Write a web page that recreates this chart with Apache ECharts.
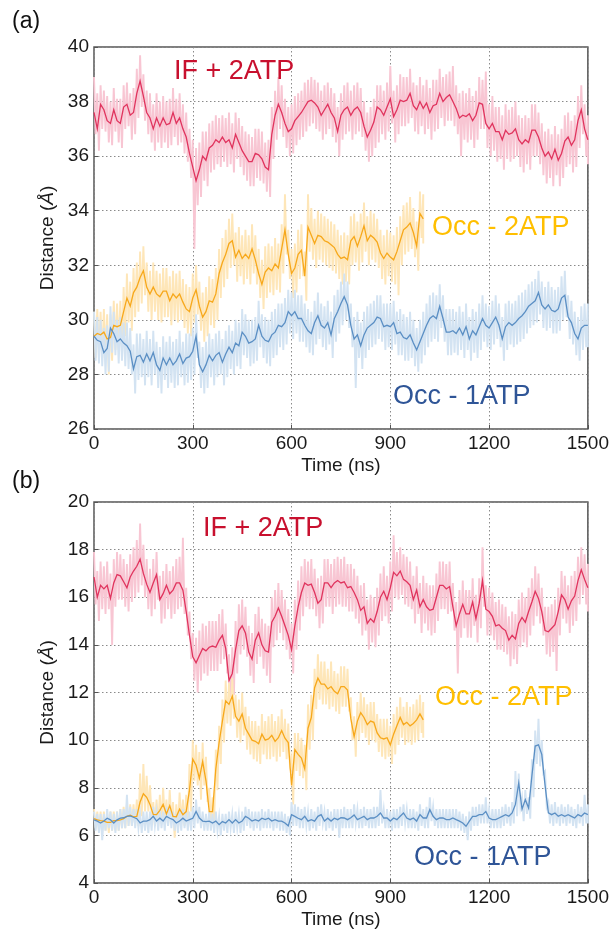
<!DOCTYPE html>
<html><head><meta charset="utf-8">
<script src="https://cdn.jsdelivr.net/npm/echarts@6/dist/echarts.min.js"></script>
<style>html,body{margin:0;padding:0;background:#fff}#c{width:612px;height:934px}</style>
</head><body><div id="c"></div>
<script>
// time step of every array below (ns)
const STEP = 10;
const xTicks = [0, 300, 600, 900, 1200, 1500];

// ---------- panel (a) ----------
const ifA = [37.6,37.0,37.9,37.7,37.3,37.2,37.7,37.3,37.2,37.8,
37.9,37.5,37.6,38.3,38.75,38.2,37.6,37.4,37.0,37.4,
37.1,37.4,37.15,37.2,37.6,37.2,37.4,37.0,36.7,36.1,
35.6,35.1,35.5,36.0,35.85,36.3,36.4,36.6,36.5,36.7,
36.5,36.6,36.3,36.8,36.5,36.2,36.0,35.8,35.8,36.1,
36.05,35.9,35.6,35.5,36.8,37.5,37.9,37.6,37.2,36.9,
37.0,37.3,37.45,37.6,37.8,38.0,38.05,37.95,37.8,37.5,
37.7,37.9,37.6,37.4,36.9,37.5,37.7,37.8,37.5,37.7,
37.8,37.6,37.1,36.7,36.95,37.25,37.8,37.7,37.5,37.8,
38.1,37.45,37.7,38.05,38.0,38.05,38.3,37.85,37.7,38.0,
37.75,37.95,37.6,37.85,37.9,38.3,38.0,38.15,38.25,38.0,
37.75,37.4,37.5,37.45,37.55,37.3,37.5,37.95,37.9,37.2,
37.0,37.2,36.9,36.9,36.6,36.95,36.8,36.85,37.0,36.6,
36.45,36.6,36.5,36.95,36.95,36.7,36.3,36.0,36.15,35.9,
36.25,35.85,36.1,36.55,36.7,36.4,36.6,37.3,37.7,37.0,
36.6];
const ifAHi = [38.9,38.3,38.6,38.4,38.2,38.0,38.5,38.1,38.1,38.6,
38.7,38.3,38.5,39.2,39.7,39.0,38.4,38.3,37.9,38.3,
38.0,38.2,38.0,38.1,38.5,38.1,38.3,37.9,37.6,37.0,
36.6,36.3,36.5,36.9,36.9,37.2,37.3,37.5,37.4,37.5,
37.4,37.6,37.2,37.6,37.4,37.1,36.9,36.8,36.7,37.0,
37.0,36.9,36.5,36.6,37.8,38.4,38.9,38.6,38.1,37.8,
37.9,38.2,38.3,38.4,38.7,38.8,38.9,38.8,38.7,38.4,
38.6,38.7,38.5,38.3,37.8,38.3,38.6,38.7,38.4,38.6,
38.7,38.5,38.0,37.6,37.8,38.1,38.6,38.6,38.4,38.7,
39.3,38.4,38.6,39.0,38.9,38.9,39.2,38.7,38.6,38.9,
38.6,38.8,38.5,38.8,38.8,39.2,38.9,39.0,39.1,39.3,
38.6,38.3,38.4,38.3,38.5,38.2,38.4,38.9,38.8,39.1,
37.9,38.2,37.8,37.8,37.5,37.9,37.7,37.8,38.0,37.5,
37.4,37.5,37.4,37.9,37.9,37.6,37.2,36.9,37.0,36.8,
37.1,36.8,37.0,37.5,37.6,37.3,37.5,38.2,38.6,37.9,
37.5];
const ifALo = [36.8,36.2,37.0,36.9,36.5,36.4,36.9,36.5,36.3,37.0,
37.1,36.6,36.8,37.4,37.8,37.3,36.8,36.5,36.2,36.5,
36.3,36.5,36.3,36.4,36.7,36.4,36.5,36.1,35.8,35.2,
32.6,34.2,34.5,35.1,34.9,35.4,35.5,35.7,35.6,35.8,
35.6,35.7,35.4,35.9,35.6,35.3,35.1,34.9,34.9,35.2,
35.1,35.0,34.7,34.5,35.9,36.6,37.0,36.7,36.3,36.0,
36.1,36.4,36.6,36.7,36.9,37.1,37.2,37.0,36.9,36.6,
36.8,37.0,36.7,36.5,36.0,36.6,36.8,36.9,36.6,36.8,
36.9,36.7,36.2,35.8,36.0,36.3,36.5,36.8,36.6,36.9,
37.2,36.5,36.8,37.1,37.1,37.2,37.4,36.9,36.8,37.1,
36.8,37.0,36.6,36.9,37.0,37.4,37.1,37.3,37.3,37.1,
36.8,36.0,36.6,36.5,36.6,36.3,36.6,37.0,37.0,36.3,
36.0,36.2,35.8,35.9,35.5,35.9,35.8,35.9,36.0,35.6,
35.4,35.7,35.5,36.0,36.0,35.7,35.3,35.0,35.2,34.9,
35.3,34.9,35.2,35.6,35.7,35.4,35.6,36.3,36.8,36.0,
35.7];

const occ2A = [29.4,29.5,29.45,29.55,29.3,29.35,29.8,29.75,29.8,30.3,
30.8,30.5,31.0,31.2,31.55,31.8,31.2,30.95,31.2,30.95,
30.85,31.05,31.05,30.7,30.95,30.8,30.95,30.65,30.4,30.3,
30.8,31.1,30.5,30.1,30.3,30.7,30.65,30.95,31.7,32.1,
32.4,32.8,32.9,32.3,32.55,32.25,32.4,32.25,32.6,32.2,
31.7,31.3,31.75,31.9,31.8,32.05,31.9,32.6,33.3,32.4,
31.7,31.9,32.4,32.55,31.6,33.4,33.1,32.8,33.1,33.05,
32.9,32.85,32.75,32.65,32.4,32.25,32.3,32.2,32.9,33.05,
32.7,33.05,33.45,32.9,33.1,33.0,32.85,32.45,32.25,32.45,
32.3,32.2,32.5,32.9,33.3,33.4,33.55,33.2,32.7,33.9,
33.7];
const occ2AHi = [30.3,30.4,30.3,30.4,30.2,30.2,30.7,30.6,30.7,31.2,
31.7,31.4,31.9,32.1,32.5,32.7,32.1,31.8,32.1,31.8,
31.7,31.9,31.9,31.6,31.8,31.7,31.8,31.5,31.3,31.2,
31.7,32.0,31.4,31.0,31.2,31.6,31.5,31.9,32.6,33.0,
33.3,33.7,33.9,33.2,33.4,33.1,33.3,33.1,33.5,33.1,
32.6,32.2,32.7,32.8,32.7,33.0,32.8,33.5,34.6,33.3,
32.6,32.8,33.3,33.5,32.5,34.6,34.1,33.7,34.0,33.9,
33.8,33.7,33.6,33.5,33.3,33.1,33.2,33.1,33.8,33.9,
33.6,33.9,34.3,33.8,34.0,33.9,33.7,33.3,33.1,33.3,
33.2,33.1,33.4,33.8,34.2,34.3,34.5,34.1,33.6,34.7,
34.6];
const occ2ALo = [28.6,28.7,28.6,28.7,28.0,28.5,28.9,28.9,28.9,29.4,
29.9,29.6,30.1,30.3,30.6,30.9,30.3,30.0,30.3,30.0,
29.9,30.1,30.1,29.8,30.0,29.9,30.0,29.7,29.5,29.4,
29.9,30.2,29.6,29.2,29.4,29.8,29.7,30.0,30.8,31.2,
31.5,31.9,32.0,31.4,31.6,31.3,31.5,31.3,31.7,31.3,
30.8,30.4,30.8,31.0,30.9,31.1,31.0,31.7,32.4,31.5,
30.8,31.0,31.5,31.6,30.7,32.5,32.2,31.9,32.2,32.1,
32.0,31.9,31.8,31.7,31.5,31.3,31.4,31.3,32.0,32.1,
31.8,32.1,32.5,32.0,32.2,32.1,31.9,31.5,31.3,31.6,
31.4,31.3,30.9,32.0,32.4,32.5,32.6,32.3,31.8,33.0,
32.8];

const occ1A = [29.4,29.25,29.2,28.8,28.95,29.7,29.5,29.2,29.3,29.15,
29.05,28.85,28.2,28.65,28.7,28.45,28.75,28.5,28.8,28.35,
28.15,28.6,28.35,28.6,28.35,28.5,28.75,28.4,28.6,28.65,
28.85,29.4,28.35,28.1,28.35,28.7,28.5,28.7,28.8,28.45,
28.75,29.0,28.8,29.15,29.05,29.55,29.4,29.15,29.2,29.3,
29.8,29.4,29.25,29.2,29.45,29.55,29.8,29.75,29.9,30.3,
30.15,30.3,30.05,30.05,29.8,29.6,29.5,29.9,30.15,29.8,
29.7,29.9,29.45,30.05,30.3,30.6,30.85,30.55,29.8,29.3,
29.45,29.05,29.45,29.7,29.8,29.9,30.1,30.05,29.75,29.8,
29.75,29.9,29.5,29.55,29.35,29.3,29.45,29.15,28.9,29.2,
29.5,29.8,30.05,30.15,30.05,30.5,30.05,29.55,29.55,29.6,
29.5,29.7,29.45,29.75,29.3,29.6,29.45,29.75,30.05,29.8,
29.7,29.9,30.1,29.8,29.3,29.75,29.9,29.8,29.9,30.05,
30.15,30.3,30.5,30.6,30.7,31.0,30.55,30.4,30.55,30.35,
30.3,30.4,30.8,30.9,30.1,29.9,29.5,29.3,29.7,29.8,
29.8];
const occ1AHi = [30.3,30.1,30.0,29.7,29.8,30.5,30.3,30.0,30.1,29.9,
29.9,29.7,29.1,29.5,29.5,29.3,29.6,29.3,29.6,29.2,
29.0,29.4,29.2,29.4,29.2,29.3,29.6,29.2,29.5,29.5,
29.7,30.2,29.2,29.0,29.2,29.5,29.3,29.5,29.6,29.3,
29.6,29.8,29.6,30.0,29.9,30.4,30.2,30.0,30.0,30.1,
30.7,30.2,30.1,30.0,30.3,30.4,30.6,30.6,30.8,31.1,
31.0,31.1,30.9,30.9,30.6,30.4,30.3,30.7,31.0,30.6,
30.5,30.7,30.3,30.9,31.1,31.4,31.7,31.4,30.6,30.1,
30.3,29.9,30.3,30.5,30.6,30.7,30.9,30.9,30.6,30.6,
30.6,30.7,30.3,30.4,30.2,30.1,30.3,30.0,29.7,30.0,
30.3,30.6,30.9,31.0,30.9,31.3,30.9,30.4,30.4,30.4,
30.3,30.5,30.3,30.6,30.1,30.4,30.3,30.6,30.9,30.6,
30.5,30.7,30.9,30.6,30.1,30.6,30.7,30.6,30.7,30.9,
31.0,31.1,31.3,31.4,31.5,31.8,31.4,31.2,31.4,31.2,
31.1,31.2,31.6,31.8,30.9,30.7,30.3,30.1,30.5,30.6,
30.6];
const occ1ALo = [28.5,28.4,28.3,28.0,28.1,28.8,28.7,28.4,28.5,28.3,
28.2,28.0,27.3,27.8,27.9,27.6,27.9,27.6,28.0,27.5,
27.3,27.8,27.5,27.7,27.5,27.6,27.9,27.6,27.7,27.8,
28.0,28.6,27.5,27.3,27.5,27.9,27.6,27.9,28.0,27.6,
27.9,28.2,28.0,28.3,28.2,28.7,28.6,28.3,28.4,28.5,
29.0,28.6,28.4,28.3,28.6,28.7,29.0,28.9,29.1,29.5,
29.3,29.5,29.2,29.2,29.0,28.8,28.7,29.1,29.3,29.0,
28.9,29.1,28.6,29.2,29.5,29.8,30.0,29.7,29.0,27.5,
28.6,28.2,28.6,28.9,29.0,29.1,29.3,29.2,28.9,29.0,
28.9,29.1,28.7,28.7,28.5,28.5,28.6,28.3,28.1,28.4,
28.7,29.0,29.2,29.3,29.2,29.7,29.2,28.7,28.7,28.8,
28.7,28.9,28.6,28.9,28.5,28.8,28.6,28.9,29.2,29.0,
28.9,29.1,29.3,29.0,28.5,28.9,29.1,29.0,29.1,29.2,
29.3,29.5,29.7,29.8,29.9,30.2,29.7,29.6,29.7,29.5,
29.5,29.6,30.0,30.1,29.3,29.1,28.7,28.5,28.9,29.0,
29.0];

// ---------- panel (b) ----------
const ifB = [16.85,16.0,16.5,16.35,16.5,15.95,16.6,16.95,16.9,16.65,
16.4,16.85,17.1,17.3,17.6,17.0,16.55,16.2,16.6,16.95,
15.9,16.15,16.5,16.15,16.3,16.6,16.6,16.3,15.4,14.4,
13.5,13.25,13.55,13.85,13.75,13.9,13.95,13.9,14.2,14.4,
13.85,12.5,12.8,13.8,14.6,14.8,14.5,13.7,13.4,14.2,
14.5,14.0,13.75,13.7,14.95,15.2,15.55,15.2,14.8,14.4,
13.8,14.8,15.6,16.2,16.6,16.5,16.55,16.2,15.75,15.9,
16.6,16.6,16.4,16.6,16.7,16.6,16.65,16.4,16.45,16.2,
15.9,15.45,15.6,14.9,15.1,14.95,15.4,16.0,16.25,15.9,
16.4,17.05,16.9,17.1,16.75,16.65,16.5,15.9,16.3,15.6,
15.9,15.6,15.45,15.5,16.0,16.5,16.5,16.35,16.45,15.6,
14.8,15.3,15.7,15.3,15.3,15.8,15.1,15.75,16.7,15.5,
15.4,15.2,14.8,14.85,14.7,14.6,14.2,14.4,14.25,14.9,
15.15,14.95,15.4,15.8,16.25,15.95,15.4,14.6,14.55,14.7,
14.85,15.4,16.1,15.9,15.5,15.85,16.05,16.7,17.15,16.75,
16.4];
const ifBHi = [17.9,17.1,17.5,17.3,17.5,17.0,17.6,17.9,17.8,17.6,
17.4,17.8,18.1,18.4,19.1,18.2,17.6,17.2,17.6,17.9,
16.9,17.1,17.4,17.1,17.3,17.6,17.7,18.5,16.4,15.4,
14.5,14.3,14.6,14.9,14.8,15.0,15.0,15.0,15.3,15.5,
14.9,13.6,13.9,15.0,15.7,15.9,15.6,14.8,14.5,15.3,
15.6,15.1,14.9,14.8,16.0,16.3,16.6,16.3,15.9,15.5,
14.9,15.9,16.7,17.3,17.6,17.5,17.6,17.2,16.8,16.9,
17.6,17.6,17.4,17.6,17.7,17.6,17.7,17.4,17.4,17.2,
16.9,16.5,16.6,15.9,16.1,16.0,16.4,17.0,17.3,16.9,
17.5,18.6,17.9,18.1,17.8,17.7,17.5,16.9,17.3,16.6,
16.9,16.6,16.5,16.5,17.0,17.5,17.5,17.4,17.5,16.6,
15.8,16.3,16.7,16.3,16.3,16.8,16.1,16.8,18.1,16.5,
16.4,16.2,15.8,15.9,15.7,15.6,15.2,15.4,15.3,15.9,
16.2,16.0,16.4,16.8,17.3,17.0,16.4,15.6,15.6,15.7,
15.9,16.4,17.1,16.9,16.5,16.9,17.1,17.7,18.1,17.8,
17.4];
const ifBLo = [15.7,15.0,15.5,15.3,15.5,14.0,15.6,15.9,15.9,15.6,
15.4,15.8,16.0,16.2,16.5,16.0,15.5,15.2,15.5,15.9,
14.9,15.1,15.5,15.1,15.3,15.5,15.6,15.3,14.4,13.4,
12.5,12.0,12.5,12.8,12.7,12.9,12.9,12.9,13.2,13.4,
12.8,11.8,11.9,12.8,13.6,13.8,13.5,12.7,12.4,13.2,
13.5,13.0,12.7,12.4,13.9,14.2,14.5,14.2,13.8,13.4,
12.8,13.8,14.6,15.2,15.6,15.5,15.5,15.2,14.7,14.9,
15.6,15.6,15.3,15.6,15.7,15.6,15.6,15.4,15.4,15.1,
14.9,14.4,14.6,13.8,14.1,13.9,14.4,15.0,15.2,14.9,
15.4,16.0,15.9,16.1,15.7,15.6,15.5,14.9,15.3,14.5,
14.9,14.6,14.4,14.5,15.0,15.5,15.5,15.3,15.4,14.6,
12.8,14.3,14.7,14.3,14.3,14.8,14.1,14.7,15.6,14.4,
14.4,14.2,13.8,13.8,13.7,13.6,13.1,13.4,13.2,13.9,
14.1,13.9,14.4,14.8,15.2,14.9,14.4,13.6,13.5,13.7,
12.9,14.4,15.1,14.9,14.5,14.8,15.0,15.7,16.1,15.7,
15.4];

const occ2B = [6.7,6.65,6.62,6.6,6.55,6.55,6.62,6.62,6.65,6.7,
6.8,6.85,6.78,6.8,7.4,7.75,7.6,7.3,6.88,6.87,
7.05,7.3,6.9,7.25,6.8,6.78,7.1,6.87,7.0,7.9,
9.2,8.95,8.4,9.1,8.3,7.0,7.0,8.8,9.9,10.8,
11.65,11.5,11.85,11.0,10.8,11.1,10.5,10.25,10.0,9.95,
9.85,10.25,10.0,10.05,10.2,9.95,10.1,10.4,10.08,9.9,
8.1,9.6,9.4,9.25,8.8,10.5,10.95,12.2,12.6,12.35,
12.35,12.15,12.25,12.05,11.95,12.25,12.25,12.1,10.9,10.15,
10.8,11.15,10.95,10.65,10.8,10.75,10.3,10.1,10.05,10.1,
9.8,10.25,10.6,10.95,10.65,10.75,10.6,10.7,10.85,11.1,
10.85];
const occ2BHi = [7.1,7.0,7.0,7.0,6.9,7.0,7.0,7.0,7.1,7.2,
7.3,7.3,7.3,7.5,8.6,9.0,8.5,8.1,7.4,7.5,
7.7,8.0,7.5,7.9,7.4,7.3,7.8,7.5,7.7,9.0,
10.0,9.8,9.5,9.9,9.3,8.0,7.6,9.6,10.6,11.7,
12.5,12.4,12.6,11.9,11.7,12.0,11.4,11.0,10.8,10.8,
10.6,11.1,10.8,11.0,11.1,10.8,11.0,11.3,10.9,10.7,
9.3,10.3,10.3,10.1,9.8,11.5,11.9,13.0,13.6,13.3,
13.3,13.0,13.3,12.9,12.8,13.1,13.1,13.0,11.8,11.0,
11.6,12.0,11.8,11.5,11.6,11.6,11.1,10.9,10.9,10.9,
10.6,11.1,11.4,11.8,11.4,11.6,11.4,11.5,11.7,11.9,
11.6];
const occ2BLo = [6.3,6.2,6.2,6.2,6.1,6.2,6.2,6.2,6.3,6.3,
6.4,6.4,6.4,6.4,6.8,7.0,7.0,6.8,6.4,6.4,
6.5,6.6,6.4,6.6,5.9,6.3,6.5,6.4,6.5,7.0,
8.3,8.1,7.5,8.1,7.4,6.5,6.5,7.9,9.0,9.9,
10.7,10.6,10.9,10.1,9.9,10.2,9.6,9.4,9.2,9.1,
9.0,9.4,9.2,9.2,9.3,9.1,9.3,9.5,9.2,9.0,
7.3,8.7,8.5,8.4,7.9,9.6,10.0,11.3,11.7,11.5,
11.5,11.3,11.4,11.2,11.1,11.4,11.4,11.2,10.0,9.3,
10.0,10.3,10.1,9.8,10.0,9.9,9.5,9.3,9.2,9.3,
9.0,9.4,9.8,10.1,9.8,9.9,9.8,9.9,10.0,10.3,
10.1];

const occ1B = [6.65,6.6,6.52,6.6,6.72,6.65,6.52,6.65,6.72,6.74,
6.8,6.82,6.76,6.7,6.52,6.6,6.6,6.66,6.8,6.6,
6.72,6.6,6.8,6.72,6.66,6.52,6.6,6.72,6.6,6.66,
6.72,7.0,6.73,6.6,6.58,6.6,6.52,6.6,6.45,6.58,
6.52,6.66,6.52,6.66,6.52,6.6,6.8,6.72,6.6,6.66,
6.6,6.72,6.66,6.72,6.6,6.66,6.6,6.6,6.52,6.4,
6.87,6.8,6.72,6.66,6.8,6.6,6.66,6.6,6.8,6.87,
6.6,6.72,6.6,6.72,6.66,6.74,6.73,6.66,6.74,6.86,
6.66,6.73,6.8,6.66,6.73,6.73,6.8,6.94,6.73,6.73,
6.6,6.73,6.66,6.8,6.94,6.73,6.66,6.73,6.6,6.87,
6.73,6.73,7.08,6.8,6.66,6.73,6.73,6.66,6.66,6.73,
6.66,6.6,6.52,6.38,6.6,6.8,6.8,6.87,6.87,7.0,
6.73,6.66,6.66,6.73,6.8,6.87,6.8,6.94,7.3,8.2,
7.1,7.5,7.15,8.5,9.75,9.8,9.4,8.1,6.95,6.87,
6.94,6.8,6.87,6.8,6.87,6.8,6.73,6.87,6.8,6.94,
6.87];
const occ1BHi = [7.0,6.9,6.9,6.9,7.1,7.0,6.9,7.0,7.1,7.1,
7.7,7.2,7.1,7.1,6.9,7.0,7.0,7.0,7.2,7.0,
7.1,7.0,7.2,7.1,7.0,6.9,7.0,7.1,7.0,7.0,
7.2,7.5,7.2,7.0,6.9,7.0,6.9,7.0,6.8,6.9,
6.9,7.0,6.9,7.0,6.9,7.0,7.2,7.1,7.0,7.0,
7.0,7.1,7.0,7.1,7.0,7.0,7.0,7.0,6.9,6.8,
7.4,7.3,7.2,7.1,7.2,7.0,7.1,7.0,7.2,7.3,
7.0,7.1,7.0,7.1,7.1,7.1,7.2,7.1,7.1,7.3,
7.1,7.1,7.2,7.1,7.1,7.2,7.2,7.9,7.1,7.1,
7.0,7.1,7.1,7.2,7.3,7.1,7.1,7.1,7.0,7.3,
7.1,7.2,7.6,7.2,7.1,7.1,7.1,7.1,7.1,7.1,
7.1,7.0,6.9,6.8,7.0,7.2,7.2,7.3,7.3,7.6,
7.1,7.1,7.1,7.1,7.2,7.3,7.2,7.4,8.7,8.6,
7.6,7.9,7.6,9.2,10.4,10.9,10.0,8.7,7.4,7.3,
7.4,7.2,7.3,7.2,7.3,7.2,7.1,7.3,7.2,7.7,
7.3];
const occ1BLo = [6.2,6.1,5.8,6.2,6.3,6.2,6.1,6.2,6.3,6.3,
6.4,6.4,6.3,6.3,6.1,6.2,6.1,6.2,6.4,6.2,
6.3,6.2,6.4,6.3,6.2,6.1,6.2,6.3,6.2,6.2,
6.3,6.5,6.3,6.2,6.2,6.2,6.1,6.2,6.0,6.2,
6.1,6.3,6.1,6.3,6.1,6.2,6.4,6.3,6.2,6.3,
6.2,6.3,6.3,6.3,6.2,6.3,6.2,6.2,6.1,6.0,
6.4,6.4,6.3,6.3,6.4,6.2,6.3,6.2,6.4,6.5,
6.2,6.3,6.2,6.3,5.9,6.3,6.3,6.3,6.3,6.5,
6.3,6.3,6.4,6.3,6.3,6.3,6.4,6.5,6.3,6.3,
6.2,6.3,6.3,6.4,6.5,6.3,6.3,6.3,6.2,6.4,
6.3,6.3,6.6,6.4,6.3,6.3,6.3,6.3,6.3,6.3,
6.3,6.2,6.1,5.8,6.2,6.4,6.4,6.5,6.5,6.5,
6.3,6.3,6.3,6.3,6.4,6.5,6.4,6.5,6.8,7.2,
6.6,6.9,6.7,7.6,9.0,8.9,8.6,7.2,6.5,6.4,
6.5,6.4,6.5,6.4,6.5,6.4,6.3,6.5,6.4,6.5,
6.5];

const seriesNames = ['IF + 2ATP', 'Occ - 2ATP', 'Occ - 1ATP'];

// ---------- build ----------
const FONT = "'Liberation Sans', Arial, sans-serif";
const C = {
  ifLine: '#e0345e', ifRaw: '#f8c6d3', ifText: '#c8102e',
  o2Line: '#f7a81b', o2Raw: '#fee6b8', o2Text: '#ffbf00',
  o1Line: '#5b8fc4', o1Raw: '#d3e3f2', o1Text: '#2f5597'
};
function smoothPts(arr){ return arr.map((v,i)=>[i*STEP, v]); }
function rawPts(hi, lo){
  const out = [];
  for (let i=0;i<hi.length;i++){
    out.push([i*STEP, hi[i]]);
    out.push([i < hi.length-1 ? i*STEP + STEP/2 : i*STEP, lo[i]]);
  }
  return out;
}
function line(g, data, color, w, z){
  return {type:'line', xAxisIndex:g, yAxisIndex:g, data, showSymbol:false, symbol:'none',
    lineStyle:{color, width:w, join:'miter'}, itemStyle:{color}, z, silent:true, animation:false, clip:true};
}
const panels = [
  {s:[ifA,occ2A,occ1A], hi:[ifAHi,occ2AHi,occ1AHi], lo:[ifALo,occ2ALo,occ1ALo]},
  {s:[ifB,occ2B,occ1B], hi:[ifBHi,occ2BHi,occ1BHi], lo:[ifBLo,occ2BLo,occ1BLo]}
];
const lineCols = [C.ifLine, C.o2Line, C.o1Line];
const rawCols = [C.ifRaw, C.o2Raw, C.o1Raw];
const series = [];
panels.forEach((p,g)=>{
  for (let k=0;k<3;k++) series.push(line(g, rawPts(p.hi[k], p.lo[k]), rawCols[k], 1.9, 2));
  for (let k=0;k<3;k++) series.push(line(g, smoothPts(p.s[k]), lineCols[k], 1.3, 3));
});

const axisText = {fontSize:19, color:'#1a1a1a', fontFamily:FONT};
function xAx(g){
  return {gridIndex:g, type:'value', min:xTicks[0], max:xTicks[xTicks.length-1], interval:xTicks[1]-xTicks[0],
    axisLine:{show:false}, axisTick:{show:true, inside:true, length:4, lineStyle:{color:'#555'}},
    axisLabel:Object.assign({margin:5, formatter:v=>String(v)}, axisText),
    splitLine:{show:true, lineStyle:{color:'#8a8a8a', type:[1.5,2.5], width:1}},
    name:'Time (ns)', nameLocation:'middle', nameGap:27, nameTextStyle:{fontSize:19, color:'#1a1a1a', fontFamily:FONT}};
}
function yAx(g, min, max){
  return {gridIndex:g, type:'value', min, max, interval:2,
    axisLine:{show:false}, axisTick:{show:true, inside:true, length:4, lineStyle:{color:'#555'}},
    axisLabel:Object.assign({margin:5}, axisText),
    splitLine:{show:true, lineStyle:{color:'#8a8a8a', type:[1.5,2.5], width:1}},
    name:'Distance ({i|Å})', nameLocation:'middle', nameGap:35,
    nameTextStyle:{fontSize:19, color:'#1a1a1a', fontFamily:FONT,
      rich:{i:{fontSize:19, fontStyle:'italic', color:'#1a1a1a', fontFamily:FONT}}}};
}
function txt(x, y, text, color, size){
  return {type:'text', x, y, z:10, style:{text, fill:color, font:`${size}px ${FONT}`, verticalAlign:'middle', textAlign:'left'}};
}

const chart = echarts.init(document.getElementById('c'), null, {renderer:'canvas'});
chart.setOption({
  animation:false,
  backgroundColor:'#fff',
  grid:[
    {left:94, top:47, width:495, height:382, show:true, borderColor:'#555', borderWidth:1.5, backgroundColor:'transparent'},
    {left:94, top:502, width:495, height:381, show:true, borderColor:'#555', borderWidth:1.5, backgroundColor:'transparent'}
  ],
  xAxis:[xAx(0), xAx(1)],
  yAxis:[yAx(0,26,40), yAx(1,4,20)],
  series,
  graphic:[
    txt(12, 22, '(a)', '#111', 23),
    txt(12, 482, '(b)', '#111', 23),
    txt(174, 72, seriesNames[0], C.ifText, 27),
    txt(432, 228, seriesNames[1], C.o2Text, 27),
    txt(393, 397, seriesNames[2], C.o1Text, 27),
    txt(203, 529, seriesNames[0], C.ifText, 27),
    txt(435, 698, seriesNames[1], C.o2Text, 27),
    txt(414, 858, seriesNames[2], C.o1Text, 27)
  ]
});
</script></body></html>
